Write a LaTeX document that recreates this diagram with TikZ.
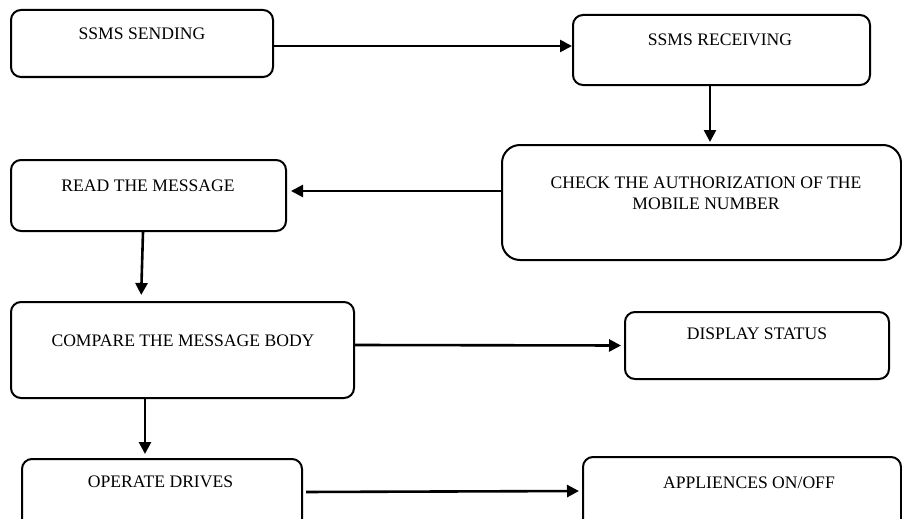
\documentclass[tikz,border=0pt]{standalone}
\usepackage{fontspec}
\setmainfont{Liberation Serif}
\usetikzlibrary{arrows.meta}
\begin{document}
\begin{tikzpicture}[x=1pt,y=-1pt,
  box/.style={draw=black,line width=2pt,rounded corners=10pt,inner sep=0pt},
  txt/.style={anchor=base,inner sep=0pt,font=\fontsize{17.6}{21}\selectfont},
  arr/.style={line width=2.6pt,-{Triangle[length=12pt,width=12pt]}}]
\useasboundingbox (0,0) rectangle (902,519);
\clip (0,0) rectangle (902,519);
\fill[white] (0,0) rectangle (902,519);
% boxes
\node[box,minimum width=262,minimum height=67] (send) at (142,43.5) {};
\node[box,minimum width=297,minimum height=70] (recv) at (721.5,50) {};
\node[box,rounded corners=18pt,minimum width=399,minimum height=115] (check) at (701.5,202.5) {};
\node[box,minimum width=275,minimum height=71] (read) at (148.5,195.5) {};
\node[box,minimum width=343,minimum height=96] (comp) at (182.5,350) {};
\node[box,minimum width=264,minimum height=67] (disp) at (757,345.5) {};
\node[box,minimum width=280,minimum height=81] (oper) at (162,499.5) {};
\node[box,minimum width=318,minimum height=83] (appl) at (742,498.5) {};
% texts
\node[txt] (tsend) at (142,40) {SSMS SENDING};
\node[txt] (trecv) at (720,46) {SSMS RECEIVING};
\node[txt] (tchk1) at (706,188) {CHECK THE AUTHORIZATION OF THE};
\node[txt] (tchk2) at (706,209) {MOBILE NUMBER};
\node[txt] (tread) at (148,191) {READ THE MESSAGE};
\node[txt] (tcomp) at (183,346) {COMPARE THE MESSAGE BODY};
\node[txt] (tdisp) at (757,339) {DISPLAY STATUS};
\node[txt] (toper) at (160.5,487) {OPERATE DRIVES};
\node[txt] (tappl) at (749,488) {APPLIENCES ON/OFF};
% connectors
\draw[arr] ([yshift=-2.5]send.east) -- ([yshift=-2.5]send.east -| recv.west);
\draw[arr,shorten >=2pt] ([xshift=-11.5]recv.south) -- ([xshift=8.5]check.north);
\draw[arr,shorten >=4pt] ([yshift=11.5]check.west) -- ([yshift=11.5]check.west -| read.east);
\draw[arr,shorten >=6pt] ([xshift=-5.5]read.south) -- ([xshift=-41.5]comp.north);
\draw[arr,shorten >=3pt] ([yshift=5]comp.east) -- (disp.west);
\draw[arr,shorten >=4pt] ([xshift=-37.5]comp.south) -- ([xshift=-17]oper.north);
\draw[arr,shorten <=3pt,shorten >=3pt] ([yshift=7.5]oper.east) -- ([yshift=7.5]appl.west);
\end{tikzpicture}
\end{document}
